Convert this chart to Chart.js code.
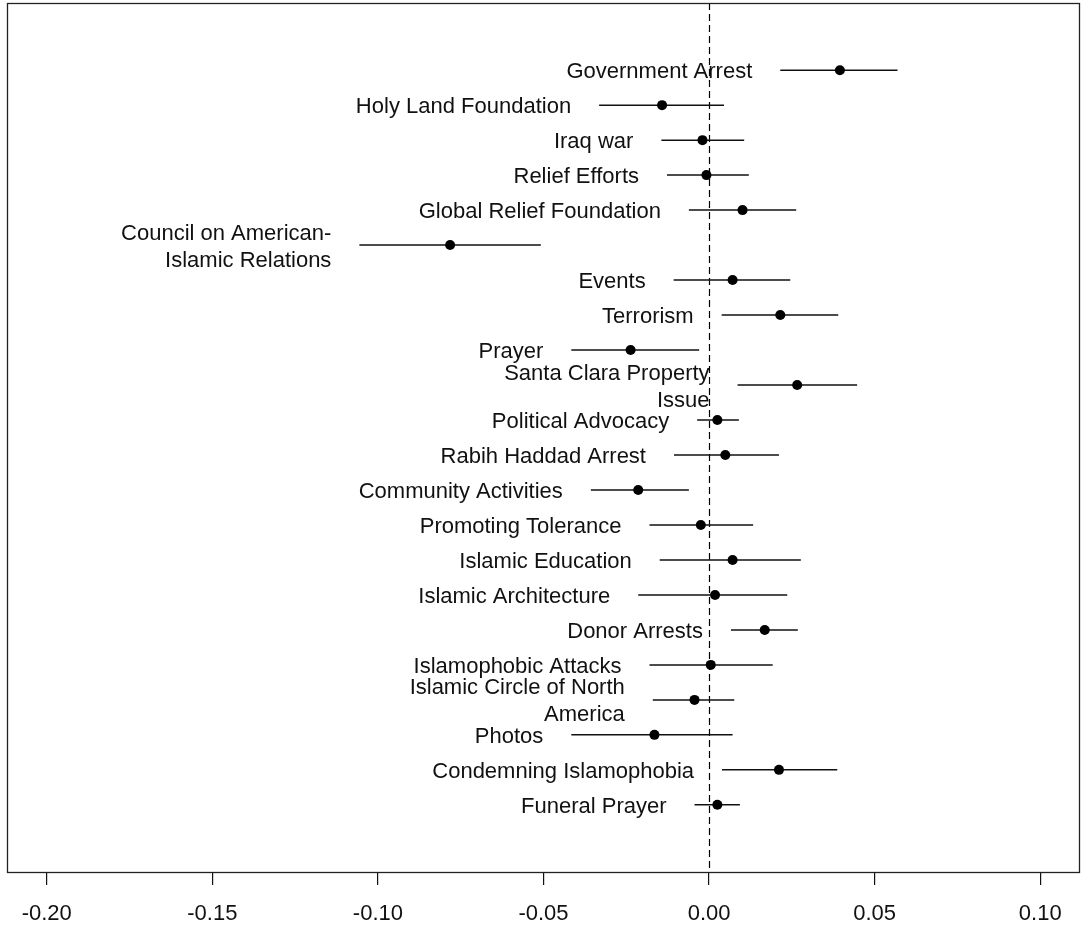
<!DOCTYPE html>
<html>
<head>
<meta charset="utf-8">
<script src="https://cdn.jsdelivr.net/npm/chart.js@4.4.1/dist/chart.umd.min.js"></script>
<style>
  html, body { margin: 0; padding: 0; background: #fff; }
  #wrap { width: 1082px; height: 929px; position: relative; }
</style>
</head>
<body>
<div id="wrap"><canvas id="chart"></canvas></div>
<script>
/* ==================== */
/* 1  Data               */
/* ==================== */
const labels = [
  'Government Arrest', 'Holy Land Foundation', 'Iraq war', 'Relief Efforts',
  'Global Relief Foundation', 'Council on American-\nIslamic Relations', 'Events',
  'Terrorism', 'Prayer', 'Santa Clara Property\nIssue', 'Political Advocacy',
  'Rabih Haddad Arrest', 'Community Activities', 'Promoting Tolerance',
  'Islamic Education', 'Islamic Architecture', 'Donor Arrests',
  'Islamophobic Attacks', 'Islamic Circle of North\nAmerica', 'Photos',
  'Condemning Islamophobia', 'Funeral Prayer'
];
const estimates = [
  0.0395, -0.0142, -0.0020, -0.0008, 0.0101, -0.0782, 0.0071, 0.0215, -0.0237, 0.0266, 0.0025,
  0.0049, -0.0214, -0.0025, 0.0071, 0.0018, 0.0168, 0.0005, -0.0044, -0.0165, 0.0211, 0.0025
];
const lower = [
  0.0215, -0.0332, -0.0144, -0.0127, -0.0061, -0.1056, -0.0107, 0.0038, -0.0416, 0.0086, -0.0036,
  -0.0106, -0.0357, -0.0180, -0.0149, -0.0214, 0.0066, -0.0180, -0.0170, -0.0416, 0.0039, -0.0044
];
const upper = [
  0.0569, 0.0045, 0.0106, 0.0120, 0.0263, -0.0508, 0.0245, 0.0390, -0.0030, 0.0447, 0.0090,
  0.0211, -0.0061, 0.0133, 0.0277, 0.0236, 0.0268, 0.0192, 0.0076, 0.0071, 0.0387, 0.0093
];
const xTicks = [-0.20, -0.15, -0.10, -0.05, 0.00, 0.05, 0.10];

const LABEL_FONT = '22px "Liberation Sans", Arial, sans-serif';

/* ==================== */
/* 2  Drawing plugin     */
/* ==================== */
const coefPlot = {
  id: 'coefPlot',
  beforeDatasetsDraw(chart) {
    const { ctx, chartArea: a, scales: { x, y } } = chart;
    ctx.save();
    // zero reference line
    const x0 = Math.round(x.getPixelForValue(0)) + 0.5;
    ctx.strokeStyle = '#000';
    ctx.lineWidth = 1.2;
    ctx.setLineDash([7, 4]);
    ctx.beginPath();
    ctx.moveTo(x0, a.top);
    ctx.lineTo(x0, a.bottom);
    ctx.stroke();
    ctx.setLineDash([]);
    // confidence intervals
    ctx.lineWidth = 1.5;
    ctx.strokeStyle = '#111';
    lower.forEach((lo, i) => {
      const py = y.getPixelForValue(i + 1);
      ctx.beginPath();
      ctx.moveTo(x.getPixelForValue(lo), py);
      ctx.lineTo(x.getPixelForValue(upper[i]), py);
      ctx.stroke();
    });
    ctx.restore();
  },
  afterDatasetsDraw(chart) {
    const { ctx, chartArea: a, scales: { x, y } } = chart;
    ctx.save();
    ctx.font = LABEL_FONT;
    ctx.fillStyle = '#111';
    ctx.textAlign = 'right';
    ctx.textBaseline = 'middle';
    labels.forEach((lab, i) => {
      const lines = lab.split('\n');
      const px = x.getPixelForValue(lower[i]) - 28;
      const py = y.getPixelForValue(i + 1) + 2;
      lines.forEach((ln, j) => {
        ctx.fillText(ln, px, py + (j - (lines.length - 1) / 2) * 27);
      });
    });
    // box
    ctx.strokeStyle = '#222';
    ctx.lineWidth = 1.3;
    ctx.strokeRect(a.left + 0.5, a.top + 0.5, a.right - a.left - 1, a.bottom - a.top);
    ctx.restore();
  }
};

/* ==================== */
/* 3  Chart              */
/* ==================== */
new Chart(document.getElementById('chart'), {
  type: 'scatter',
  data: {
    datasets: [{
      data: estimates.map((e, i) => ({ x: e, y: i + 1 })),
      pointRadius: 5,
      pointBackgroundColor: '#000',
      pointBorderColor: '#000',
      pointBorderWidth: 0
    }]
  },
  options: {
    responsive: true,
    maintainAspectRatio: false,
    animation: false,
    layout: { autoPadding: false, padding: { left: 7, right: 2, top: 3, bottom: 5 } },
    plugins: { legend: { display: false }, tooltip: { enabled: false } },
    scales: {
      x: {
        type: 'linear',
        min: -0.212,
        max: 0.112,
        afterBuildTicks: (scale) => { scale.ticks = xTicks.map(v => ({ value: v })); },
        afterFit: (scale) => {
          scale.paddingLeft = 0;
          scale.paddingRight = 0;
          scale.height = 52;
        },
        ticks: {
          callback: (v) => Number(v).toFixed(2),
          color: '#111',
          font: { family: '"Liberation Sans", Arial, sans-serif', size: 22 },
          padding: 16,
          maxRotation: 0,
          autoSkip: false
        },
        grid: { drawOnChartArea: false, drawTicks: true, tickLength: 13, color: '#111', lineWidth: 1.2 },
        border: { display: false }
      },
      y: {
        type: 'linear',
        min: -0.92,
        max: 23.92,
        reverse: true,
        display: false
      }
    }
  },
  plugins: [coefPlot]
});
</script>
</body>
</html>
